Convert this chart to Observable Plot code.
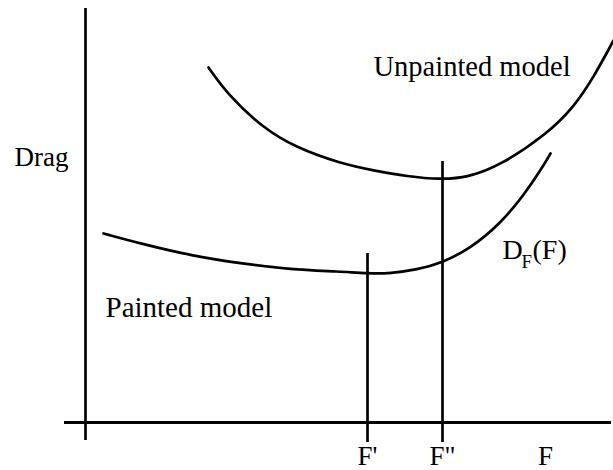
<!DOCTYPE html>
<html>
<head>
<meta charset="utf-8">
<script src="https://cdn.jsdelivr.net/npm/d3@7"></script>
<script src="https://cdn.jsdelivr.net/npm/@observablehq/plot@0.6"></script>
<style>
  html, body { margin: 0; padding: 0; background: white; }
</style>
</head>
<body>
<div id="chart"></div>
<script>
// Schematic units: F along x, Drag along y (origin where the axes cross)
const upperF    = [123, 143, 177, 210, 255, 288, 322, 355, 382, 415, 462, 488, 508, 528];
const upperDrag = [355, 327, 295, 275, 259, 252, 246, 243, 245, 257, 289, 315, 345, 382];

const lowerF    = [18, 55, 105, 155, 205, 255, 282, 305, 332, 355, 385, 415, 438, 455, 465];
const lowerDrag = [189, 179, 167, 159, 153, 151, 149, 149, 153, 159, 174, 199, 227, 252, 269];

// Marked F values and the drag level each vertical line reaches
const markF     = [282, 357];
const markTop   = [169, 261];
const markNames = ["F'", "F\""];

const axisF = "F";
const axisDrag = "Drag";

const upper = upperF.map((f, i) => ({f, d: upperDrag[i]}));
const lower = lowerF.map((f, i) => ({f, d: lowerDrag[i]}));
const marks = markF.map((f, i) => ({f, top: markTop[i], name: markNames[i]}));

const curveLabels = [
  {f: 288, d: 356, text: "Unpainted model", size: 28.5},
  {f: 20, d: 115, text: "Painted model", size: 29}
];

const chart = Plot.plot({
  width: 613,
  height: 470,
  margin: 0,
  x: {domain: [-85, 528], range: [0, 613], axis: null},
  y: {domain: [-48, 422], range: [470, 0], axis: null},
  style: {fontFamily: "'Liberation Serif', 'DejaVu Serif', serif", background: "white", color: "black"},
  marks: [
    Plot.ruleX([0], {y1: -18, y2: 414, stroke: "black", strokeWidth: 2.7}),
    Plot.ruleY([0], {x1: -21, x2: 526, stroke: "black", strokeWidth: 3}),
    Plot.ruleX(marks, {x: "f", y1: -20, y2: "top", stroke: "black", strokeWidth: 2.7}),
    Plot.line(upper, {x: "f", y: "d", curve: "basis", stroke: "black", strokeWidth: 2.7}),
    Plot.line(lower, {x: "f", y: "d", curve: "basis", stroke: "black", strokeWidth: 2.7}),
    Plot.text(marks, {x: "f", y: -34, text: "name", fontSize: 27, fill: "black"}),
    Plot.text([axisF], {x: 460, y: -34, text: d => d, fontSize: 27, fill: "black"}),
    Plot.text([axisDrag], {x: -71, y: 265, text: d => d, textAnchor: "start", fontSize: 27, fill: "black"}),
    Plot.text(curveLabels, {x: "f", y: "d", text: "text", textAnchor: "start", fontSize: d => d.size, fill: "black"}),
    // D_F(F)
    Plot.text(["D"], {x: 417, y: 172, text: d => d, textAnchor: "start", fontSize: 28, fill: "black"}),
    Plot.text(["F"], {x: 436, y: 161, text: d => d, textAnchor: "start", fontSize: 19, fill: "black"}),
    Plot.text(["(F)"], {x: 447, y: 172, text: d => d, textAnchor: "start", fontSize: 28, fill: "black"})
  ]
});
document.getElementById("chart").appendChild(chart);
</script>
</body>
</html>
